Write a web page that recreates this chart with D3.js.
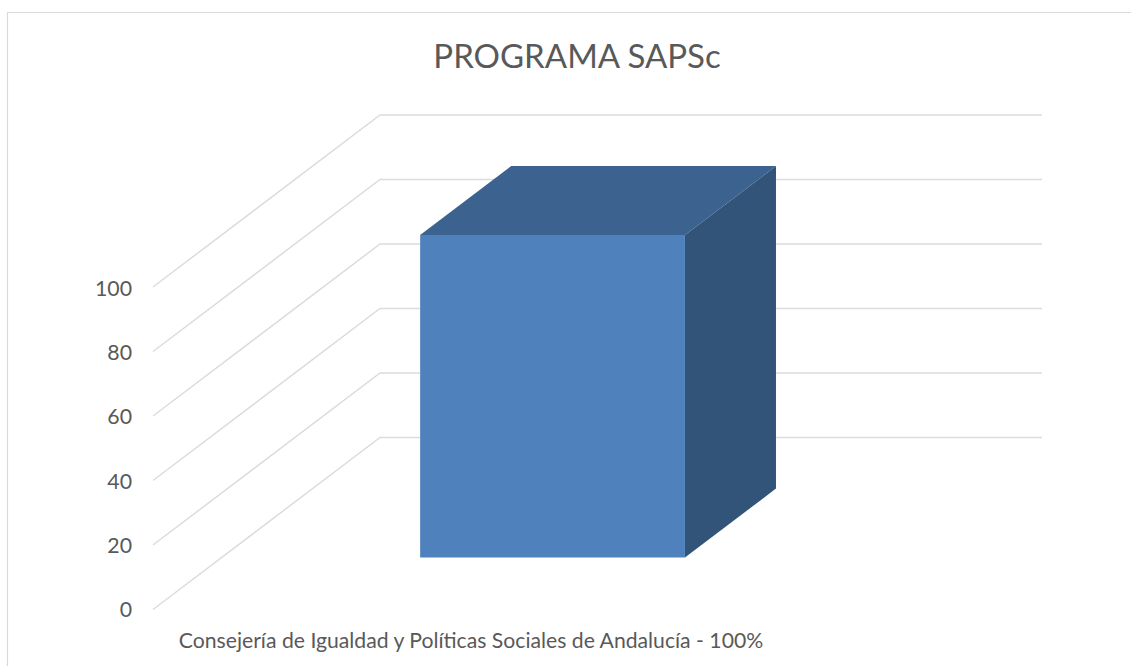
<!DOCTYPE html>
<html>
<head>
<meta charset="utf-8">
<script src="https://cdn.jsdelivr.net/npm/d3@7"></script>
<style>
html, body { margin: 0; padding: 0; background: #fff; }
svg { display: block; }
text { font-family: Lato, "Open Sans", sans-serif; fill: #595959; }
</style>
</head>
<body>
<div id="chart"></div>
<script>
const titleText = 'PROGRAMA SAPSc'
const categories = ['Consejería de Igualdad y Políticas Sociales de Andalucía - 100%']
const values = [100]
const yTicks = [0, 20, 40, 60, 80, 100]

const width = 1131
const height = 666

// front plane of the fake 3d box, plus how far the back wall is shifted
const x0 = 153, x1 = 815
const yBottom = 609.5, yTop = 287
const depthX = 227, depthY = -172

const y = d3.scaleLinear().domain([0, 100]).range([yBottom, yTop])
// tick label baselines, they run a little tighter than the gridlines
const yLabel = d3.scaleLinear().domain([0, 100]).range([617, 296])
const x = d3.scaleBand().domain(categories).range([x0, x1]).paddingInner(0).paddingOuter(0.75)
// bar sits in the middle of the depth
const depth = d3.scaleLinear().domain([0, 1]).range([0.302, 0.703])

const project = (px, py, t) => [px + depthX * t, py + depthY * t]
const line = d3.line()

const svg = d3.select('#chart')
.append('svg')
.attr('width', width)
.attr('height', height)

// chart frame, cropped on the right and bottom
svg.append('path')
.attr('d', 'M7.5,' + height + 'V12.5H' + width)
.attr('fill', 'none')
.attr('stroke', '#d9d9d9')
.attr('stroke-width', 1.2)

svg.append('text')
.attr('x', 577)
.attr('y', 68)
.attr('text-anchor', 'middle')
.attr('font-size', 33)
.text(titleText)

// gridlines: slanted on the floor side, flat on the back wall
svg.append('g')
.selectAll('path')
.data(yTicks)
.join('path')
.attr('d', d => line([
	project(x0, y(d), 0),
	project(x0, y(d), 1),
	project(x1, y(d), 1)
]))
.attr('fill', 'none')
.attr('stroke', '#dcdcdc')
.attr('stroke-width', 1.5)

svg.append('g')
.selectAll('text')
.data(yTicks)
.join('text')
.attr('x', 132)
.attr('y', d => yLabel(d))
.attr('text-anchor', 'end')
.attr('font-size', 21.3)
.text(d => d)

svg.append('text')
.attr('x', 471)
.attr('y', 647.5)
.attr('text-anchor', 'middle')
.attr('font-size', 21.2)
.text(categories[0])

// the box
const bars = svg.append('g')
.selectAll('g')
.data(categories.map((c, i) => ({ c, v: values[i] })))
.join('g')

const tFront = depth(0), tBack = depth(1)

bars.append('path')
.attr('d', d => {
	const l = x(d.c), r = l + x.bandwidth()
	return line([
		project(l, y(d.v), tFront), project(r, y(d.v), tFront),
		project(r, y(d.v), tBack), project(l, y(d.v), tBack)
	]) + 'Z'
})
.attr('fill', '#3c628f')

bars.append('path')
.attr('d', d => {
	const r = x(d.c) + x.bandwidth()
	return line([
		project(r, y(0), tFront), project(r, y(d.v), tFront),
		project(r, y(d.v), tBack), project(r, y(0), tBack)
	]) + 'Z'
})
.attr('fill', '#325479')

bars.append('path')
.attr('d', d => {
	const l = x(d.c), r = l + x.bandwidth()
	return line([
		project(l, y(0), tFront), project(r, y(0), tFront),
		project(r, y(d.v), tFront), project(l, y(d.v), tFront)
	]) + 'Z'
})
.attr('fill', '#4f81bd')
</script>
</body>
</html>
